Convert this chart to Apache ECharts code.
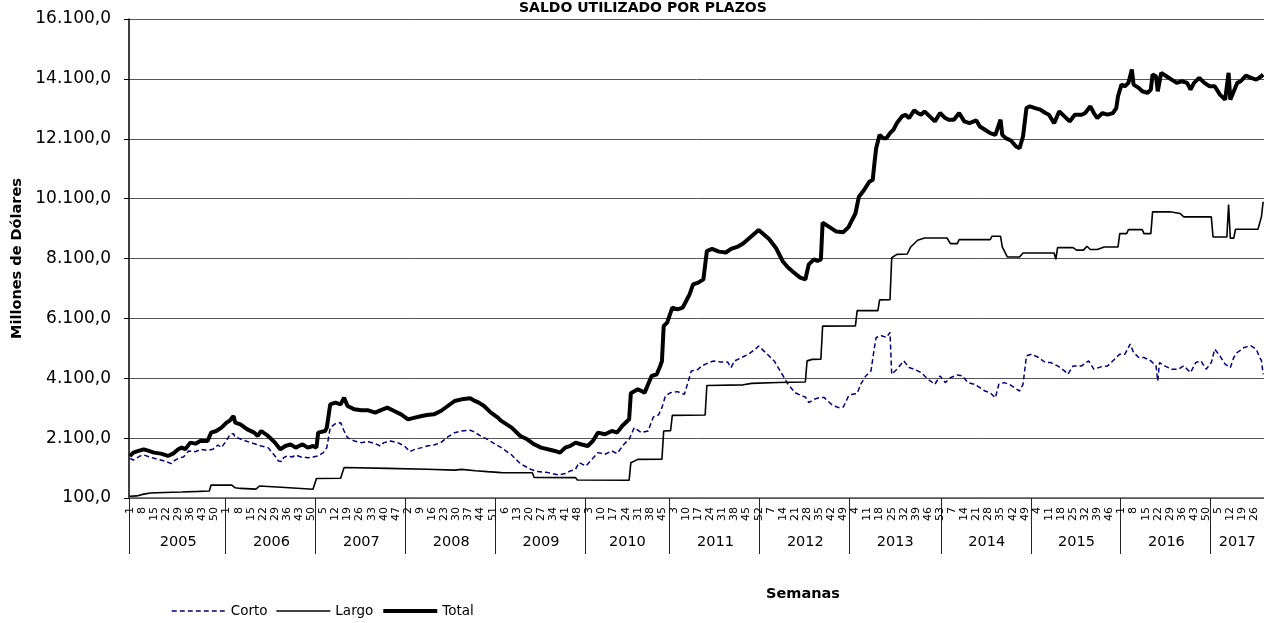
<!DOCTYPE html>
<html>
<head>
<meta charset="utf-8">
<title>Saldo utilizado por plazos</title>
<script src="https://cdn.jsdelivr.net/npm/echarts@6/dist/echarts.min.js"></script>
<style>
  html, body { margin: 0; padding: 0; background: #fff; }
  #chart { width: 1264px; height: 623px; }
</style>
</head>
<body>
<div id="chart"></div>
<script>
// ========================== datos ==========================
var years = ['2005', '2006', '2007', '2008', '2009', '2010', '2011', '2012', '2013', '2014', '2015', '2016', '2017'];
var weeksPerYear = [56, 52, 52, 52, 52, 49, 52, 52, 53, 52, 52, 52, 31];

// eje Y: 100,0 ... 16.100,0
var yMin = 100;
var yMax = 16100;
var yStep = 2000;

// [semana (indice global), millones]
var cortoData = [
  [0, 1426], [2, 1370], [6, 1504], [8, 1537], [14, 1426], [20, 1337], [24, 1248], [26, 1360], [29, 1448], [31, 1470],
  [32, 1426], [34, 1671], [38, 1648], [41, 1726], [45, 1693], [48, 1726], [51, 1871], [53, 1782], [56, 2027], [58, 2227],
  [60, 2250], [61, 2116], [63, 2094], [66, 2027], [70, 1949], [73, 1893], [76, 1837], [80, 1782], [84, 1504], [86, 1337],
  [88, 1315], [89, 1448], [91, 1504], [94, 1470], [96, 1537], [99, 1470], [103, 1448], [106, 1470], [109, 1504], [112, 1615],
  [114, 1782], [116, 2450], [119, 2583], [122, 2617], [124, 2338], [126, 2116], [130, 2005], [134, 1949], [138, 1982], [142, 1915],
  [145, 1837], [147, 1949], [151, 2005], [155, 1949], [159, 1837], [162, 1648], [165, 1726], [169, 1782], [172, 1837], [176, 1871],
  [180, 1949], [184, 2138], [188, 2283], [192, 2338], [197, 2361], [199, 2316], [203, 2172], [207, 2060], [211, 1915], [215, 1780],
  [221, 1538], [226, 1249], [232, 1060], [236, 982], [242, 948], [248, 870], [252, 915], [255, 1004], [258, 1060], [260, 1282],
  [264, 1171], [267, 1360], [271, 1616], [275, 1560], [279, 1672], [282, 1583], [286, 1895], [289, 2062], [292, 2451], [296, 2284],
  [300, 2340], [303, 2807], [306, 2874], [308, 3119], [310, 3508], [313, 3620], [317, 3653], [321, 3564], [325, 4343], [329, 4399],
  [331, 4510], [335, 4621], [338, 4677], [342, 4644], [346, 4644], [348, 4454], [350, 4677], [354, 4788], [358, 4900], [362, 5067],
  [364, 5178], [365, 5122], [369, 4900], [373, 4677], [377, 4288], [381, 3898], [385, 3620], [389, 3508], [391, 3475], [393, 3286],
  [396, 3397], [399, 3453], [402, 3453], [406, 3230], [410, 3119], [413, 3140], [416, 3508], [418, 3562], [419, 3618], [421, 3590],
  [423, 3898], [426, 4178], [429, 4346], [431, 5133], [432, 5464], [435, 5520], [438, 5464], [440, 5632], [441, 4234], [444, 4402],
  [448, 4681], [451, 4457], [454, 4401], [458, 4290], [462, 4066], [466, 3898], [469, 4178], [472, 3954], [475, 4122], [479, 4212],
  [482, 4178], [485, 3954], [489, 3898], [492, 3786], [495, 3674], [498, 3618], [501, 3450], [503, 3898], [506, 3954], [509, 3898],
  [512, 3786], [515, 3674], [517, 3898], [519, 4849], [522, 4905], [526, 4793], [530, 4625], [533, 4625], [537, 4513], [541, 4346],
  [543, 4234], [546, 4513], [551, 4513], [555, 4681], [558, 4402], [562, 4480], [566, 4513], [570, 4737], [573, 4905], [576, 4905],
  [579, 5241], [581, 4960], [584, 4793], [587, 4793], [591, 4681], [594, 4513], [595, 4010], [596, 4625], [599, 4513], [603, 4402],
  [607, 4402], [610, 4513], [612, 4402], [614, 4290], [617, 4625], [620, 4681], [623, 4402], [626, 4625], [628, 5073], [631, 4849],
  [634, 4569], [637, 4457], [639, 4793], [641, 4960], [645, 5128], [649, 5184], [652, 5073], [654, 4793], [655, 4700], [656, 4234]
];

var largoData = [
  [0, 160], [4, 170], [8, 230], [12, 265], [20, 285], [30, 300], [40, 320], [46, 335], [47, 535], [59, 530],
  [61, 440], [64, 420], [73, 395], [75, 500], [90, 450], [106, 390], [108, 750], [122, 760], [124, 1120], [149, 1090],
  [172, 1060], [188, 1030], [192, 1055], [200, 1010], [207, 980], [215, 948], [233, 945], [234, 785], [258, 780], [259, 700],
  [289, 695], [290, 1280], [294, 1390], [308, 1400], [309, 2340], [313, 2350], [314, 2860], [333, 2870], [334, 3860], [355, 3880],
  [360, 3930], [375, 3960], [391, 3975], [392, 4680], [395, 4730], [400, 4740], [401, 5840], [420, 5850], [421, 6360], [433, 6360],
  [434, 6717], [440, 6720], [441, 8126], [444, 8238], [450, 8250], [452, 8485], [456, 8708], [460, 8786], [473, 8786], [475, 8596],
  [479, 8596], [480, 8730], [498, 8730], [499, 8842], [504, 8842], [505, 8485], [508, 8149], [515, 8149], [517, 8283], [535, 8283],
  [536, 8070], [537, 8462], [546, 8462], [548, 8380], [552, 8380], [554, 8510], [556, 8400], [560, 8400], [564, 8485], [572, 8485],
  [573, 8932], [577, 8932], [578, 9066], [586, 9066], [587, 8932], [591, 8932], [592, 9659], [602, 9659], [603, 9603], [608, 9603],
  [610, 9491], [626, 9491], [627, 8820], [635, 8820], [636, 9900], [637, 8780], [639, 8780], [640, 9077], [653, 9077], [655, 9491],
  [656, 9995]
];

var totalData = [
  [0, 1504], [2, 1615], [5, 1671], [8, 1726], [11, 1671], [14, 1615], [18, 1582], [22, 1504], [25, 1582], [28, 1726],
  [30, 1782], [32, 1726], [35, 1949], [38, 1916], [41, 2013], [45, 2005], [47, 2283], [50, 2338], [53, 2450], [56, 2617],
  [58, 2695], [60, 2839], [61, 2617], [64, 2561], [68, 2394], [72, 2283], [74, 2172], [76, 2338], [80, 2172], [84, 1949],
  [87, 1726], [90, 1837], [93, 1893], [96, 1782], [100, 1893], [103, 1782], [106, 1837], [108, 1782], [109, 2283], [113, 2338],
  [114, 2450], [116, 3229], [119, 3285], [122, 3229], [124, 3452], [126, 3173], [130, 3062], [134, 3029], [138, 3029], [142, 2951],
  [145, 3029], [149, 3118], [153, 3006], [157, 2895], [161, 2728], [165, 2784], [169, 2839], [172, 2873], [176, 2895], [180, 3006],
  [184, 3173], [188, 3340], [192, 3396], [197, 3429], [199, 3363], [202, 3285], [205, 3173], [209, 2951], [213, 2784], [215, 2674],
  [221, 2451], [226, 2173], [230, 2062], [234, 1895], [238, 1783], [242, 1727], [246, 1672], [249, 1616], [252, 1783], [255, 1839],
  [258, 1950], [261, 1895], [265, 1839], [268, 2006], [271, 2284], [275, 2229], [279, 2340], [282, 2284], [285, 2507], [289, 2730],
  [290, 3600], [294, 3731], [298, 3620], [300, 3898], [302, 4176], [305, 4232], [307, 4510], [308, 4677], [309, 5846], [311, 5957],
  [314, 6458], [317, 6402], [320, 6458], [322, 6680], [324, 6903], [326, 7237], [329, 7293], [332, 7404], [333, 7460], [334, 8350],
  [337, 8420], [341, 8330], [345, 8300], [348, 8420], [352, 8500], [355, 8600], [358, 8750], [361, 8900], [364, 9050], [366, 8950],
  [370, 8750], [374, 8450], [378, 8000], [381, 7800], [384, 7650], [388, 7460], [391, 7400], [392, 7340], [393, 7905], [394, 7960],
  [396, 8072], [398, 8016], [400, 8072], [401, 9300], [405, 9150], [409, 9000], [413, 8980], [416, 9150], [418, 9379], [419, 9435],
  [420, 9603], [422, 10162], [425, 10386], [428, 10666], [430, 10722], [431, 11281], [432, 11784], [434, 12231], [436, 12120], [438, 12120],
  [440, 12288], [442, 12400], [444, 12623], [447, 12847], [449, 12903], [451, 12791], [454, 13048], [456, 12959], [458, 12903], [460, 13015],
  [463, 12847], [466, 12679], [469, 12959], [472, 12791], [474, 12735], [477, 12735], [480, 12959], [483, 12679], [486, 12623], [490, 12713],
  [492, 12511], [495, 12400], [498, 12288], [501, 12231], [502, 12288], [504, 12735], [505, 12231], [507, 12120], [510, 12041], [513, 11840],
  [515, 11784], [517, 12176], [519, 13126], [521, 13183], [524, 13126], [527, 13071], [530, 12959], [532, 12903], [535, 12623], [538, 13015],
  [541, 12847], [544, 12679], [547, 12903], [551, 12903], [553, 12959], [556, 13183], [558, 12959], [560, 12791], [563, 12959], [566, 12903],
  [569, 12959], [571, 13126], [572, 13518], [574, 13909], [576, 13854], [578, 13965], [580, 14413], [581, 13909], [584, 13798], [586, 13686],
  [589, 13630], [591, 13742], [592, 14245], [594, 14189], [595, 13686], [597, 14301], [600, 14189], [603, 14077], [606, 13965], [609, 14021],
  [612, 13965], [614, 13742], [616, 13965], [619, 14133], [622, 13965], [625, 13854], [628, 13854], [631, 13574], [634, 13406], [635, 13400],
  [636, 14301], [637, 13406], [638, 13450], [641, 13965], [643, 14021], [646, 14211], [649, 14133], [652, 14077], [655, 14189], [656, 14245]
];

// ========================== grafico ==========================
(function () {
  // semanas y años de cada categoria
  var weekLabels = [];
  var weekYears = [];
  var yearStart = {};
  var yearMiddle = {};
  years.forEach(function (y, i) {
    var start = weekLabels.length;
    yearStart[start] = true;
    yearMiddle[start + Math.floor(weeksPerYear[i] / 2)] = true;
    for (var w = 1; w <= weeksPerYear[i]; w++) {
      weekLabels.push(String(w));
      weekYears.push(y);
    }
  });

  // 16100 -> "16.100,0"
  function fmtNum(v) {
    return String(v).replace(/\B(?=(\d{3})+(?!\d))/g, '.') + ',0';
  }

  var font = 'DejaVu Sans';
  var myChart = echarts.init(document.getElementById('chart'));
  var option = {
    animation: false,
    backgroundColor: '#fff',
    textStyle: { fontFamily: font },
    title: [
      {
        text: 'SALDO UTILIZADO POR PLAZOS',
        left: 519,
        top: 1,
        padding: 0,
        textStyle: { fontFamily: font, fontSize: 14, fontWeight: 'bold', color: '#000' }
      },
      {
        text: 'Semanas',
        left: 766,
        top: 587,
        padding: 0,
        textStyle: { fontFamily: font, fontSize: 14.5, fontWeight: 'bold', color: '#000' }
      }
    ],
    legend: {
      left: 171,
      top: 604,
      padding: 0,
      itemWidth: 54,
      itemHeight: 10,
      itemGap: 8,
      // solo la linea, sin el circulo; grosor igual al de la serie
      itemStyle: { opacity: 0 },
      lineStyle: { width: 'inherit' },
      textStyle: { fontFamily: font, fontSize: 13.5, color: '#000' },
      data: [
        { name: 'Corto' },
        { name: 'Largo' },
        { name: 'Total', lineStyle: { width: 4 } }
      ]
    },
    grid: {
      left: 129,
      right: 0,
      top: 19,
      bottom: 125,
      outerBoundsMode: 'none'
    },
    xAxis: [
      {
        // semanas
        type: 'category',
        data: weekLabels,
        axisLine: { lineStyle: { color: '#555', width: 1.5 } },
        axisTick: { show: false },
        axisLabel: { interval: 6, rotate: 90, fontSize: 11, color: '#000', margin: 9 },
        splitLine: { show: false }
      },
      {
        // años, con separadores
        type: 'category',
        data: weekYears,
        position: 'bottom',
        axisLine: { show: false },
        axisTick: {
          show: true,
          length: 56,
          interval: function (i) { return !!yearStart[i]; },
          lineStyle: { color: '#222', width: 1 }
        },
        axisLabel: {
          interval: function (i) { return !!yearMiddle[i]; },
          fontSize: 14.5,
          color: '#000',
          margin: 37
        },
        splitLine: { show: false }
      }
    ],
    yAxis: {
      type: 'value',
      min: yMin,
      max: yMax,
      interval: yStep,
      name: 'Millones de Dólares',
      nameLocation: 'middle',
      nameGap: 102,
      nameTextStyle: { fontFamily: font, fontSize: 14.5, fontWeight: 'bold', color: '#000' },
      axisLine: { show: true, lineStyle: { color: '#000', width: 1.5 } },
      axisTick: { show: true, length: 5, lineStyle: { color: '#000' } },
      axisLabel: { formatter: fmtNum, fontSize: 17, color: '#000', margin: 18 },
      splitLine: { lineStyle: { color: '#555', width: 1 } }
    },
    series: [
      {
        name: 'Corto',
        type: 'line',
        data: cortoData,
        symbol: 'none',
        itemStyle: { color: '#000080' },
        lineStyle: { color: '#000080', width: 1.5, type: [5, 3] }
      },
      {
        name: 'Largo',
        type: 'line',
        data: largoData,
        symbol: 'none',
        itemStyle: { color: '#000' },
        lineStyle: { color: '#000', width: 1.6 }
      },
      {
        name: 'Total',
        type: 'line',
        data: totalData,
        symbol: 'none',
        itemStyle: { color: '#000' },
        lineStyle: { color: '#000', width: 4 }
      }
    ]
  };

  myChart.setOption(option);
  window.addEventListener('resize', function () {
    myChart.resize();
  });
})();
</script>
</body>
</html>
